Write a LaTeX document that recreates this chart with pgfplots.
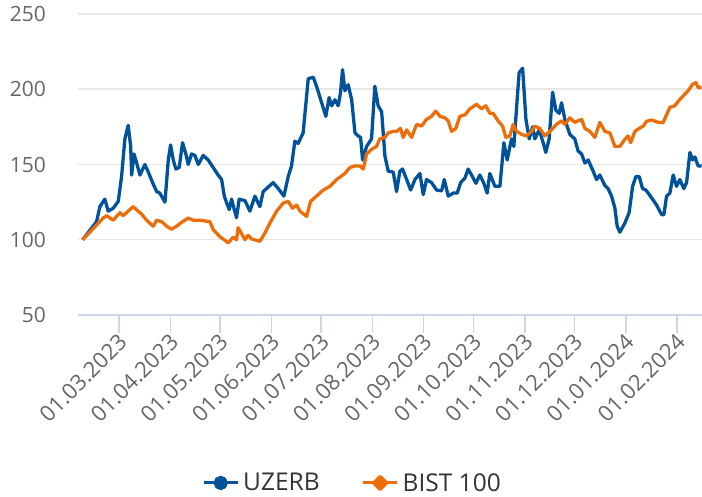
\documentclass[border=0pt]{standalone}
\usepackage{pgfplots}
\pgfplotsset{compat=1.18}
\usepackage{fontspec}
\setmainfont{Open Sans}
\definecolor{uzerb}{HTML}{00539B}
\definecolor{bist}{HTML}{EC6E0B}
\definecolor{gridc}{HTML}{E6E6E6}
\definecolor{axisc}{HTML}{CCD6EB}
\definecolor{labc}{HTML}{666666}
\definecolor{legc}{HTML}{333333}

\pgfplotstableread{
day val
-21.9 100
-13.5 112
-11.5 122
-8.5 127
-6.5 119
-3.4 121
-0.4 125.5
1.6 142
3.6 167
5.6 176
7.1 162
7.7 143
9.1 157
10.7 151
12.7 143
15.7 150
17.7 145
20.7 137
22.8 132
24.7 131
27.8 125
29.8 153
31.2 163
32.8 153
34.4 147
36.4 148
38.4 164.5
40.4 157
41.8 150
43.9 157
45.9 156
47.9 150
50.9 156
53.9 153
56.9 148
59.9 143
62.0 140
63.6 129
65.0 124.6
66.6 120
68.0 127
69.4 121
71.0 114.6
72.6 127
76.1 126
79.1 119
82.1 129
85.1 122
87.1 132
90.1 135
93.1 138
96.2 134
99.6 129
102.2 142
104.2 149
106.2 165.5
108.2 164
111.2 171
114.3 207
117.3 208
119.3 202
122.4 191
124.9 182
126.9 194.5
128.4 189
130.4 193
132.4 189
133.8 198
135.0 213
136.4 199
138.4 203
140.5 193
142.5 171
144.4 169
145.9 168
147.1 153
149.5 162
152.5 167
154.5 202
156.5 189
158.6 185
160.6 155.5
162.6 145.5
165.6 145
167.6 132
169.6 145.5
171.2 147
173.7 140
176.1 133
178.7 140
181.7 144
183.7 130
185.7 140
188.7 138
191.8 133
194.8 132.5
196.4 140
198.8 129
201.8 131
204.2 131
206.3 138
208.9 141
210.8 147
212.9 143
215.5 137.5
217.9 143
220.3 137.5
222.3 131
223.9 144
227.0 135.5
230.0 135.5
232.4 164.5
234.4 153
237.0 167
238.4 162
240.4 193
241.6 211
243.7 214
245.7 180
247.7 167
249.7 175
251.1 167
253.7 173
256.1 164.5
257.7 158
259.7 167
261.8 198
263.8 186
265.8 184
267.2 191
269.2 180
272.2 170
275.2 167
277.2 159
279.3 157
281.3 151
283.3 153
286.3 145.5
288.3 140
290.3 143
293.4 136
295.3 134
297.4 129
299.4 121
300.8 109
302.4 105
305.4 111
308.0 118
310.1 135.5
312.1 142
314.1 142
316.1 134
318.1 133
319.5 131
322.1 127
324.6 123
327.6 116.7
329.0 116.7
330.6 129
332.6 131
334.6 143
336.6 135.5
338.6 140
341.0 134
342.7 138
344.7 158
346.3 153
347.7 155
349.7 149
351.7 149
}\uzerbdata

\pgfplotstableread{
day val
-21.9 100
-9.5 114.4
-7.4 116
-3.4 113
0.6 118
2.6 116
6.6 120
8.6 122
11.6 119
13.7 117
16.7 113
20.7 109
22.8 113
25.8 112
28.8 109
31.8 107
34.8 109
37.8 111.5
41.8 114.4
44.8 113
48.9 113
54.9 112
56.9 106.7
61.0 102
66.0 98
69.0 101.7
71.0 100
72.0 108
74.1 104
76.1 100
78.0 103
80.1 100.5
85.1 99
88.1 104.4
91.1 111
95.2 119
99.2 124.4
102.2 125.5
104.8 121
107.3 123
109.3 119
113.3 115.5
115.7 125.5
119.3 129
123.3 133
127.4 135.5
131.4 140
136.4 144
139.4 148
142.5 149
145.5 149
147.5 147
149.5 157
152.5 160
155.5 162
157.5 167
160.6 168
162.6 171
165.6 172
167.6 172
170.0 174
171.6 168
173.7 173
176.7 168
179.7 176.7
182.7 175.5
185.7 180
188.7 182
191.3 185.5
193.8 182
196.8 181
198.8 179
200.8 172
203.4 174
205.8 182
208.9 183
211.9 187
215.9 190
218.9 187
221.5 189
223.9 184
225.9 184
228.9 179
231.6 175.5
233.6 168
236.0 169
238.0 176.7
240.1 172
243.1 170
246.1 169
249.1 172
251.1 175.5
254.1 174
257.1 169
260.2 172
264.2 176.7
267.2 179
269.2 176.7
272.2 181
275.2 178
279.3 180
281.3 174
284.3 172
287.3 168
290.3 178
293.4 172
296.4 171
299.4 162
302.4 162
305.4 166.7
307.4 169
308.9 164.5
311.5 172
314.1 174
316.5 175.5
318.5 178.7
321.5 179.6
325.5 178
328.5 177.8
330.6 183
332.6 188
335.6 189
337.6 192
340.6 195.5
343.6 199
346.3 203.3
348.3 204.4
349.7 201
351.7 201.5
}\bistdata

\begin{document}
\begin{tikzpicture}
\useasboundingbox (0pt,0pt) rectangle (702pt,497pt);
\begin{axis}[
  at={(78pt,182pt)}, anchor=south west,
  scale only axis, width=624pt, height=301pt,
  xmin=-24.7, xmax=352, ymin=50, ymax=250,
  ytick={50,100,150,200,250},
  xtick={0,31,61,92,122,153,184,214,245,275,306,337},
  xticklabels={01.03.2023,01.04.2023,01.05.2023,01.06.2023,01.07.2023,01.08.2023,01.09.2023,01.10.2023,01.11.2023,01.12.2023,01.01.2024,01.02.2024},
  axis x line*=bottom, axis y line*=left,
  y axis line style={draw=none},
  x axis line style={axisc, line width=1.5pt},
  ymajorgrids, grid style={gridc, line width=1.5pt},
  tick align=outside, major tick length=18pt,
  xtick style={axisc, line width=1.5pt},
  ytick style={draw=none},
  x tick label style={xshift=4pt, yshift=-5pt, rotate=45, anchor=east, inner sep=0pt, text=labc,
    font=\fontsize{22}{25}\selectfont},
  y tick label style={anchor=east, inner sep=0pt, text=labc, xshift=-14pt,
    font=\fontsize{21}{24}\selectfont},
  /pgf/number format/assume math mode=true,
  legend style={at={(0.4415,-0.558)}, anchor=center, draw=none, fill=none,
    legend columns=2, font=\fontsize{24.5}{28}\selectfont, text=legc,
    nodes={inner xsep=4pt},
    /tikz/every even column/.append style={column sep=38pt}},
  legend cell align=left,
]
\addplot[uzerb, line width=3.3pt, line join=round, mark=none,
  legend image code/.code={\draw[uzerb,line width=3pt] (0pt,0pt)--(34pt,0pt); \fill[uzerb] (17pt,0pt) circle (5.5pt);}]
  table[x=day,y=val] {\uzerbdata};
\addlegendentry{UZERB}
\addplot[bist, line width=3.3pt, line join=round, mark=none,
  legend image code/.code={\draw[bist,line width=3pt] (0pt,0pt)--(34pt,0pt); \fill[bist] (17pt,6.5pt)--(23.5pt,0pt)--(17pt,-6.5pt)--(10.5pt,0pt)--cycle;}]
  table[x=day,y=val] {\bistdata};
\addlegendentry{BIST 100}
\end{axis}
\end{tikzpicture}
\end{document}
